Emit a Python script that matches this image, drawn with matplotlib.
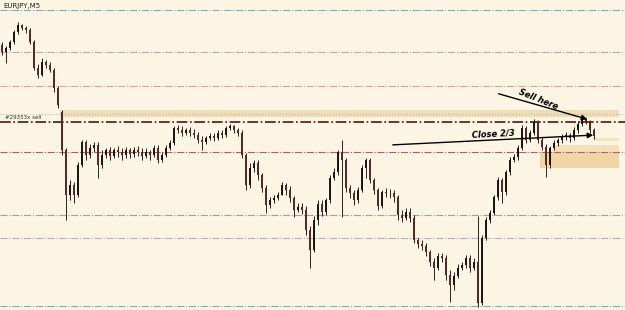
import numpy as np
import matplotlib.pyplot as plt

# EURJPY M5 candles, values are screen rows (axis inverted)
opens = [
    45, 52, 48, 42, 32, 25, 28, 30, 42, 68,
    75, 62, 65, 70, 88, 112, 150, 195, 185, 195,
    165, 142, 155, 148, 145, 165, 155, 150, 156, 150,
    152, 155, 150, 154, 150, 152, 156, 152, 155, 148,
    160, 155, 148, 143, 128, 130, 133, 130, 133, 135,
    140, 142, 138, 136, 138, 133, 135, 128, 126, 130,
    133, 155, 185, 168, 163, 175, 188, 205, 200, 198,
    195, 185, 190, 198, 210, 207, 210, 230, 250, 220,
    204, 212, 200, 178, 172, 152, 160, 188, 193, 200,
    190, 168, 160, 180, 190, 206, 192, 193, 193, 197,
    215, 218, 212, 218, 240, 244, 246, 252, 262, 268,
    256, 258, 275, 285, 276, 268, 265, 258, 268, 262,
    303, 238, 220, 213, 197, 180, 192, 172, 160, 157,
    148, 128, 140, 133, 122, 140, 147, 165, 148, 143,
    140, 137, 135, 138, 130, 124, 119, 121, 130,
]
closes = [
    52, 48, 42, 32, 25, 28, 30, 42, 68, 75,
    62, 65, 70, 88, 105, 150, 195, 185, 195, 165,
    142, 155, 148, 145, 165, 155, 150, 156, 150, 152,
    155, 150, 154, 150, 152, 156, 152, 155, 148, 160,
    155, 148, 143, 128, 130, 133, 130, 133, 135, 140,
    142, 138, 136, 138, 133, 135, 128, 126, 130, 133,
    155, 185, 168, 163, 175, 188, 205, 200, 198, 195,
    185, 190, 198, 210, 207, 210, 230, 250, 220, 204,
    212, 200, 178, 172, 152, 160, 188, 193, 200, 190,
    168, 160, 180, 190, 206, 192, 193, 193, 197, 215,
    218, 212, 218, 240, 244, 246, 252, 262, 268, 256,
    258, 275, 285, 276, 268, 265, 258, 268, 262, 303,
    238, 220, 213, 197, 180, 192, 172, 160, 157, 148,
    128, 140, 133, 122, 140, 147, 165, 148, 143, 140,
    137, 135, 138, 130, 124, 119, 121, 130, 136,
]
highs = [
    42, 46, 40, 30, 22, 24, 26, 28, 40, 64,
    58, 60, 62, 68, 86, 110, 148, 180, 182, 162,
    140, 140, 144, 142, 142, 150, 148, 147, 148, 146,
    148, 147, 148, 147, 146, 148, 148, 150, 145, 145,
    152, 145, 140, 126, 125, 126, 128, 127, 129, 132,
    136, 136, 133, 133, 130, 130, 126, 124, 125, 128,
    130, 153, 163, 160, 160, 173, 185, 197, 195, 192,
    182, 183, 186, 196, 203, 203, 206, 226, 216, 200,
    200, 198, 175, 168, 150, 140, 158, 185, 190, 187,
    165, 158, 158, 178, 188, 190, 188, 189, 190, 195,
    210, 208, 208, 215, 238, 240, 243, 250, 258, 253,
    253, 255, 270, 272, 264, 262, 255, 255, 258, 216,
    235, 217, 210, 195, 177, 178, 170, 157, 154, 145,
    125, 126, 130, 119, 120, 137, 144, 146, 140, 138,
    134, 132, 133, 127, 121, 116, 118, 120, 128,
]
lows = [
    55, 63, 50, 44, 34, 30, 33, 44, 70, 78,
    76, 68, 72, 92, 108, 155, 220, 200, 203, 197,
    167, 160, 158, 152, 178, 168, 158, 160, 158, 157,
    160, 158, 158, 157, 156, 160, 158, 160, 157, 163,
    162, 157, 150, 145, 133, 136, 135, 136, 138, 143,
    150, 144, 140, 141, 140, 138, 137, 130, 133, 136,
    158, 190, 188, 172, 180, 192, 213, 208, 203, 200,
    195, 195, 202, 217, 212, 214, 235, 268, 252, 225,
    216, 215, 203, 180, 175, 217, 192, 198, 205, 203,
    192, 178, 183, 194, 210, 208, 197, 198, 202, 220,
    222, 220, 222, 243, 248, 250, 256, 266, 280, 270,
    262, 280, 302, 290, 278, 270, 268, 272, 270, 307,
    305, 240, 223, 215, 200, 203, 195, 175, 162, 160,
    150, 143, 142, 135, 143, 150, 177, 168, 150, 146,
    143, 140, 142, 140, 133, 126, 124, 133, 139,
]

symbol = "EURJPY,M5"
order_label = "#29353x sell"

# horizontal levels: (row, colour, style, width)
levels = [
    (10, "#8fa6ad", "-.", 0.8),
    (52, "#caa3ad", "-.", 0.8),
    (86, "#caa3ad", "-.", 0.8),
    (114, "#a9c2c9", ":", 0.8),
    (122, "#5c1010", "-.", 1.2),
    (152, "#a56565", "-.", 0.8),
    (215, "#8fa6ad", "-.", 0.8),
    (238, "#c9a3b9", "-.", 0.8),
    (306, "#8fa6ad", "-.", 0.8),
]

# supply/demand zones: (x0, x1, top, bottom, colour)
zones = [
    (60, 619, 110, 117, "#f3dcb2"),
    (593, 619, 138, 141, "#f1e3c2"),
    (553, 619, 145, 152, "#f5dfb8"),
    (540, 619, 152, 168, "#f2d5a5"),
]

fig = plt.figure(figsize=(6.25, 3.1), dpi=100)
ax = fig.add_axes([0, 0, 1, 1])
bg = "#fdf5e4"
fig.patch.set_facecolor(bg)
ax.set_facecolor(bg)

for x0, x1, top, bot, col in zones:
    ax.fill_between([x0, x1], top, bot, color=col, lw=0, zorder=1)

for y, col, ls, lw in levels:
    ax.axhline(y, color=col, ls=ls, lw=lw, zorder=2)

o = np.array(opens)
c = np.array(closes)
h = np.array(highs)
l = np.array(lows)
x = 2 + 4 * np.arange(len(o))

ax.vlines(x, h, l, color="#2a2222", lw=0.7, zorder=3)
bull = c < o
bear = ~bull
ax.vlines(x[bull], c[bull], o[bull], color="#151515", lw=1.4, zorder=4)
ax.vlines(x[bear], o[bear], c[bear], color="#5a2626", lw=1.4, zorder=4)

ax.text(3, 3, symbol, fontsize=5, color="#222222", va="top", ha="left")
ax.text(5, 120, order_label, fontsize=4, color="#333333", va="bottom", ha="left")

# trade notes
ax.annotate("", xy=(590, 120), xytext=(496, 93),
            arrowprops=dict(arrowstyle="-|>", color="black", lw=1.0,
                            mutation_scale=8), zorder=6)
ax.text(538, 99, "Sell here", fontsize=6, fontweight="bold", style="italic",
        rotation=-22, ha="center", va="center", zorder=6)
ax.annotate("", xy=(596, 135), xytext=(390, 145),
            arrowprops=dict(arrowstyle="-|>", color="black", lw=1.0,
                            mutation_scale=8), zorder=6)
ax.text(493, 134, "Close 2/3", fontsize=6, fontweight="bold", style="italic",
        rotation=3, ha="center", va="center", zorder=6)

ax.set_xlim(0, 625)
ax.set_ylim(310, 0)
ax.axis("off")

fig.savefig("out.png", dpi=100, facecolor=bg)
